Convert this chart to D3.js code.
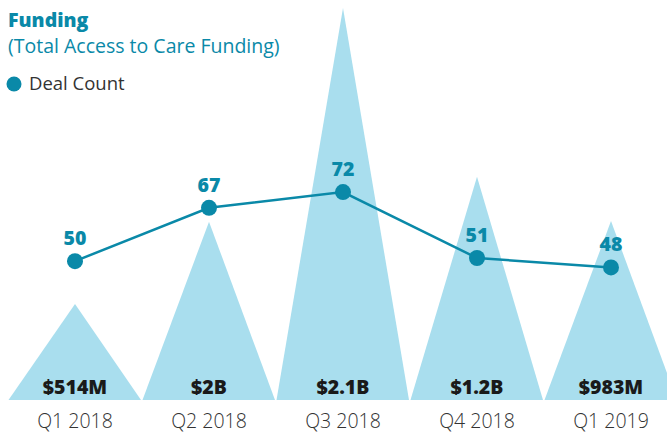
<!DOCTYPE html>
<html><head><meta charset="utf-8">
<script src="https://cdn.jsdelivr.net/npm/d3@7"></script>
<style>body{margin:0;background:#fff}svg{display:block;font-family:"Open Sans",sans-serif}</style>
</head><body><svg id="c" width="667" height="436"></svg>
<script>
const quarters = ["Q1 2018","Q2 2018","Q3 2018","Q4 2018","Q1 2019"];
const fundingHeights = [514, 955, 2100, 1196, 959]; // $M as drawn
const fundingLabels = ["$514M","$2B","$2.1B","$1.2B","$983M"];
const dealCounts = [50, 67, 72, 51, 48];

const svg = d3.select("#c");
const teal = "#0a89a8", light = "#a9deee";
const x = d3.scaleBand().domain(quarters).range([8, 678]).padding(0);
const yF = d3.scaleLinear().domain([0, 2100]).range([400, 8]);
const yD = d3.scaleLinear().domain([0, 80]).range([418, 167]);

const bw = x.bandwidth();
svg.append("g").selectAll("path").data(quarters).join("path")
  .attr("d", (q,i) => {
    const l = x(q) + 0.5, r = x(q) + bw - 1, c = x(q) + bw/2;
    return `M${l},${yF(0)}L${c},${yF(fundingHeights[i])}L${r},${yF(0)}Z`;
  }).attr("fill", light);

svg.append("g").selectAll("text").data(quarters).join("text")
  .attr("x", q => x(q) + bw/2).attr("y", 394).attr("text-anchor","middle")
  .attr("font-size", 19.5).attr("font-weight", 800).attr("fill", "#1a1a1a")
  .text((q,i) => fundingLabels[i]);

// x axis labels
const ax = svg.append("g").attr("transform", `translate(0,${yF(0)})`)
  .call(d3.axisBottom(x).tickSize(0).tickPadding(14));
ax.select(".domain").remove();
ax.selectAll("text").attr("font-size", 19.5).attr("font-weight", 300).attr("fill", "#333").attr("font-family", "Open Sans, sans-serif");

const line = d3.line().x((d,i) => x(quarters[i]) + bw/2).y(d => yD(d));
svg.append("path").datum(dealCounts).attr("d", line)
  .attr("fill","none").attr("stroke", teal).attr("stroke-width", 2.5);
svg.append("g").selectAll("circle").data(dealCounts).join("circle")
  .attr("cx", (d,i) => x(quarters[i]) + bw/2).attr("cy", d => yD(d)).attr("r", 8).attr("fill", teal);
svg.append("g").selectAll("text").data(dealCounts).join("text")
  .attr("x", (d,i) => x(quarters[i]) + bw/2).attr("y", d => yD(d) - 16).attr("text-anchor","middle")
  .attr("font-size", 19.5).attr("font-weight", 800).attr("fill", teal).text(d => d);

svg.append("text").attr("x", 8).attr("y", 27).attr("font-size", 19.5).attr("font-weight", 800).attr("fill", teal).text("Funding");
svg.append("text").attr("x", 8).attr("y", 53).attr("font-size", 19.5).attr("fill", teal).text("(Total Access to Care Funding)");
svg.append("circle").attr("cx", 14).attr("cy", 84).attr("r", 7.5).attr("fill", teal);
svg.append("text").attr("x", 29).attr("y", 90).attr("font-size", 18.5).attr("fill", "#333").text("Deal Count");
</script></body></html>
